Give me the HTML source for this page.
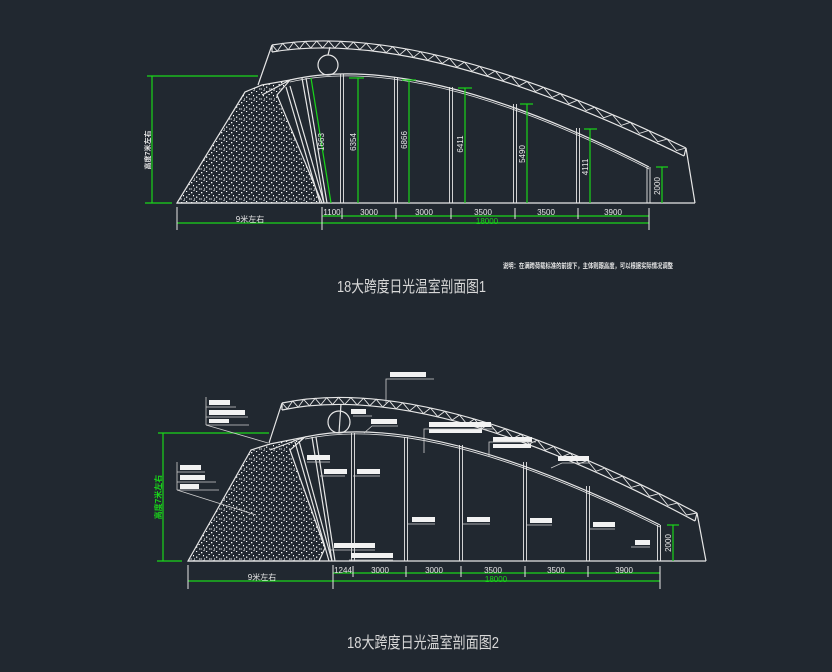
<!DOCTYPE html>
<html><head><meta charset="utf-8"><style>
html,body{margin:0;padding:0;background:#212830;}
svg{display:block}
text{font-family:"Liberation Sans","Noto Sans CJK SC",sans-serif;}
</style></head><body>
<svg width="832" height="672" viewBox="0 0 832 672" xmlns="http://www.w3.org/2000/svg">
<defs>
<pattern id="dots" width="10" height="10" patternUnits="userSpaceOnUse">
<rect x="1" y="2" width="1.3" height="1.3" fill="#fff"/><rect x="6" y="1" width="1.2" height="1" fill="#fff"/>
<rect x="8.5" y="4" width="1.3" height="1" fill="#fff"/><rect x="3" y="5" width="1" height="1.3" fill="#fff"/>
<rect x="6" y="6.5" width="1.3" height="1.3" fill="#fff"/><rect x="9" y="8.5" width="1" height="1" fill="#fff"/>
<rect x="0.5" y="8.5" width="1.3" height="1" fill="#fff"/><rect x="4" y="8.5" width="1" height="1" fill="#fff"/>
<rect x="3.5" y="0" width="1" height="1" fill="#fff"/>
</pattern>
</defs>
<rect width="832" height="672" fill="#212830"/>

<!-- ================= TOP ================= -->
<g fill="none" stroke="#e6e6e6" stroke-width="1.2">
<polygon points="177,203 245,92 262,85 290,80 277,95 322,203" fill="url(#dots)"/>
<path d="M290,80 Q420,50 649,167"/>
<path d="M290,82 Q420,52 649,169" stroke-width="0.8"/>
<path d="M272,45 Q420,20 686,148"/>
<path d="M272,52 Q420,27 684,156"/>
<path d="M272,45 L272,52 M272,45 L258,85 M686,148 L695,203 M684,156 L686,148"/>
<line x1="177" y1="203" x2="695" y2="203"/>
<circle cx="328" cy="65" r="10"/>
<line x1="328" y1="55" x2="330" y2="47"/>
<line x1="286" y1="87" x2="320" y2="203"/><line x1="290" y1="86" x2="324" y2="203"/>
<line x1="302" y1="78" x2="324" y2="203"/><line x1="306" y1="78" x2="327" y2="203"/>
<line x1="262" y1="95" x2="290" y2="80"/>
</g>
<g stroke="#e6e6e6" stroke-width="0.9">
<line x1="340.5" y1="74" x2="340.5" y2="203"/><line x1="343.5" y1="74" x2="343.5" y2="203"/>
<line x1="394.5" y1="77" x2="394.5" y2="203"/><line x1="397.5" y1="77" x2="397.5" y2="203"/>
<line x1="449.5" y1="87" x2="449.5" y2="203"/><line x1="452.5" y1="87" x2="452.5" y2="203"/>
<line x1="513.5" y1="104" x2="513.5" y2="203"/><line x1="516.5" y1="104" x2="516.5" y2="203"/>
<line x1="576.5" y1="128" x2="576.5" y2="203"/><line x1="579.5" y1="128" x2="579.5" y2="203"/>
<line x1="647" y1="167" x2="647" y2="203"/><line x1="650" y1="167" x2="650" y2="203"/>
</g>
<polyline fill="none" stroke="#e6e6e6" stroke-width="0.9" points="272,45 277.3,51.2 282.7,43.4 288.2,49.8 293.7,42.2 299.4,48.8 305.1,41.4 310.8,48.1 316.7,41.0 322.6,47.9 328.6,40.95 334.7,48.1 340.9,41.3 347.1,48.6 353.4,42.1 359.8,49.6 366.2,43.2 372.7,50.9 379.3,44.7 386.0,52.7 392.8,46.7 399.6,54.8 406.5,49.0 413.5,57.3 420.5,51.7 427.7,60.2 434.9,54.8 442.1,63.5 449.5,58.3 456.9,67.1 464.4,62.1 472.0,71.2 479.7,66.4 487.4,75.7 495.2,71.0 503.1,80.5 511.1,76.1 519.1,85.8 527.2,81.5 535.4,91.4 543.6,87.35 552.0,97.4 560.4,93.6 568.9,103.8 577.4,100.2 586.1,110.6 594.8,107.2 603.6,117.8 612.4,114.6 621.3,125.4 630.4,122.3 639.4,133.4 648.6,130.5 657.8,141.7 667.2,139.1 676.5,150.5 686,148"/>
<g stroke="#19d619" stroke-width="1.2" fill="none">
<line x1="311" y1="78" x2="331" y2="203"/>
<line x1="358" y1="78" x2="358" y2="203"/><line x1="349" y1="78" x2="364" y2="78"/>
<line x1="409" y1="80" x2="409" y2="203"/><line x1="402" y1="80" x2="416" y2="80"/>
<line x1="465" y1="88" x2="465" y2="203"/><line x1="458" y1="88" x2="472" y2="88"/>
<line x1="527" y1="104" x2="527" y2="203"/><line x1="520" y1="104" x2="533" y2="104"/>
<line x1="590" y1="129" x2="590" y2="203"/><line x1="584" y1="129" x2="597" y2="129"/>
<line x1="662" y1="167" x2="662" y2="203"/><line x1="656" y1="167" x2="668" y2="167"/>
<line x1="152" y1="76" x2="152" y2="203"/><line x1="147" y1="76" x2="258" y2="76"/><line x1="145" y1="203" x2="172" y2="203"/>
<line x1="322" y1="216" x2="649" y2="216"/>
<line x1="177" y1="223" x2="649" y2="223"/>
</g>
<g stroke="#e6e6e6" stroke-width="1">
<line x1="177" y1="207" x2="177" y2="230"/><line x1="322" y1="207" x2="322" y2="230"/>
<line x1="342" y1="208" x2="342" y2="219"/><line x1="396" y1="208" x2="396" y2="219"/>
<line x1="451" y1="208" x2="451" y2="219"/><line x1="515" y1="208" x2="515" y2="219"/>
<line x1="578" y1="208" x2="578" y2="219"/><line x1="649" y1="208" x2="649" y2="230"/>
</g>
<g fill="#e6e6e6" font-size="8">
<text x="332" y="215" text-anchor="middle">1100</text>
<text x="369" y="215" text-anchor="middle">3000</text>
<text x="424" y="215" text-anchor="middle">3000</text>
<text x="483" y="215" text-anchor="middle">3500</text>
<text x="546" y="215" text-anchor="middle">3500</text>
<text x="613" y="215" text-anchor="middle">3900</text>
<text x="250" y="222" text-anchor="middle">9米左右</text>
<text transform="translate(324,142) rotate(-90)" text-anchor="middle">1663</text>
<text transform="translate(356,142) rotate(-90)" text-anchor="middle">6354</text>
<text transform="translate(407,140) rotate(-90)" text-anchor="middle">6866</text>
<text transform="translate(463,144) rotate(-90)" text-anchor="middle">6411</text>
<text transform="translate(525,154) rotate(-90)" text-anchor="middle">5490</text>
<text transform="translate(588,167) rotate(-90)" text-anchor="middle">4111</text>
<text transform="translate(660,186) rotate(-90)" text-anchor="middle">2000</text>
<text transform="translate(150,150) rotate(-90)" text-anchor="middle" font-weight="bold" font-size="7">高度7米左右</text>
<text x="503" y="268" font-size="7" font-weight="bold" textLength="170" lengthAdjust="spacingAndGlyphs">说明：在满跨荷载标准的前提下，主体则跟高度，可以根据实际情况调整</text>
</g>
<text x="487" y="224" fill="#19d619" font-size="8" text-anchor="middle">18000</text>
<text x="337" y="292" fill="#d8d8d8" font-size="16" textLength="149" lengthAdjust="spacingAndGlyphs">18大跨度日光温室剖面图1</text>

<!-- ================= BOTTOM ================= -->
<g fill="none" stroke="#e6e6e6" stroke-width="1.2">
<polygon points="188,561 251,450 270,444 305,437 290,450 325,548 319,561" fill="url(#dots)"/>
<path d="M305,437 Q430,410 660,525"/>
<path d="M305,439 Q430,412 660,527" stroke-width="0.8"/>
<path d="M282,403 Q430,372 697,513"/>
<path d="M282,410 Q430,379 695,521"/>
<path d="M282,403 L282,410 M282,403 L269,443 M697,513 L706,561 M695,521 L697,513"/>
<line x1="188" y1="561" x2="706" y2="561"/>
<circle cx="339" cy="422" r="11"/>
<line x1="339" y1="433" x2="341" y2="404"/>
<line x1="295" y1="442" x2="329" y2="561"/><line x1="299" y1="441" x2="332" y2="561"/>
<line x1="312" y1="437" x2="332" y2="561"/><line x1="316" y1="437" x2="335" y2="561"/>
<line x1="270" y1="450" x2="305" y2="437"/>
</g>
<g stroke="#e6e6e6" stroke-width="0.9">
<line x1="351.5" y1="433" x2="351.5" y2="561"/><line x1="354.5" y1="433" x2="354.5" y2="561"/>
<line x1="404.5" y1="437" x2="404.5" y2="561"/><line x1="407.5" y1="437" x2="407.5" y2="561"/>
<line x1="459.5" y1="445" x2="459.5" y2="561"/><line x1="462.5" y1="445" x2="462.5" y2="561"/>
<line x1="523.5" y1="462" x2="523.5" y2="561"/><line x1="526.5" y1="462" x2="526.5" y2="561"/>
<line x1="586.5" y1="486" x2="586.5" y2="561"/><line x1="589.5" y1="486" x2="589.5" y2="561"/>
<line x1="657.5" y1="525" x2="657.5" y2="561"/><line x1="660.5" y1="525" x2="660.5" y2="561"/>
</g>
<polyline fill="none" stroke="#e6e6e6" stroke-width="0.9" points="282,403 287.3,408.9 292.7,401.0 298.2,407.2 303.7,399.45 309.4,405.8 315.1,398.3 320.8,404.9 326.7,397.65 332.6,404.5 338.6,397.4 344.7,404.5 350.9,397.6 357.1,404.9 363.4,398.25 369.8,405.7 376.2,399.3 382.7,407.0 389.3,400.8 396.0,408.8 402.8,402.8 409.6,410.9 416.5,405.2 423.5,413.5 430.5,408.0 437.7,416.6 444.9,411.3 452.1,420.1 459.5,415.0 466.9,424.0 474.4,419.15 482.0,428.4 489.7,423.7 497.4,433.2 505.2,428.8 513.1,438.4 521.1,434.2 529.1,444.1 537.2,440.1 545.4,450.2 553.6,446.5 562.0,456.8 570.4,453.25 578.9,463.8 587.4,460.5 596.1,471.25 604.8,468.1 613.6,479.1 622.4,476.2 631.3,487.4 640.4,484.8 649.4,496.2 658.6,493.7 667.8,505.4 677.2,503.1 686.5,515.0 697,513"/>
<g stroke="#19d619" stroke-width="1.2" fill="none">
<line x1="163" y1="433" x2="163" y2="561"/><line x1="158" y1="433" x2="269" y2="433"/><line x1="157" y1="561" x2="182" y2="561"/>
<line x1="673" y1="525" x2="673" y2="561"/><line x1="667" y1="525" x2="679" y2="525"/>
<line x1="333" y1="573" x2="660" y2="573"/>
<line x1="188" y1="581" x2="660" y2="581"/>
</g>
<g stroke="#e6e6e6" stroke-width="1">
<line x1="188" y1="565" x2="188" y2="589"/><line x1="333" y1="565" x2="333" y2="589"/>
<line x1="353" y1="566" x2="353" y2="577"/><line x1="406" y1="566" x2="406" y2="577"/>
<line x1="461" y1="566" x2="461" y2="577"/><line x1="525" y1="566" x2="525" y2="577"/>
<line x1="588" y1="566" x2="588" y2="577"/><line x1="660" y1="566" x2="660" y2="589"/>
</g>
<g fill="#e6e6e6" font-size="8">
<text x="343" y="573" text-anchor="middle">1244</text>
<text x="380" y="573" text-anchor="middle">3000</text>
<text x="434" y="573" text-anchor="middle">3000</text>
<text x="493" y="573" text-anchor="middle">3500</text>
<text x="556" y="573" text-anchor="middle">3500</text>
<text x="624" y="573" text-anchor="middle">3900</text>
<text x="262" y="580" text-anchor="middle">9米左右</text>
<text transform="translate(671,543) rotate(-90)" text-anchor="middle">2000</text>
</g>
<text transform="translate(161,497) rotate(-90)" fill="#19d619" font-size="8" font-weight="bold" text-anchor="middle">高度7米左右</text>
<text x="496" y="582" fill="#19d619" font-size="8" text-anchor="middle">18000</text>

<!-- label boxes -->
<g fill="#f2f2f2">
<rect x="390" y="372" width="36" height="5"/>
<rect x="209" y="400" width="21" height="5"/><rect x="209" y="410" width="36" height="5"/><rect x="209" y="419" width="20" height="4"/>
<rect x="351" y="409" width="15" height="5"/><rect x="371" y="419" width="26" height="5"/>
<rect x="429" y="422" width="62" height="5"/><rect x="429" y="429" width="53" height="4"/>
<rect x="493" y="437" width="39" height="5"/><rect x="493" y="444" width="38" height="4"/>
<rect x="558" y="456" width="31" height="5"/>
<rect x="307" y="455" width="23" height="5"/><rect x="324" y="469" width="23" height="5"/><rect x="357" y="469" width="23" height="5"/>
<rect x="180" y="465" width="21" height="5"/><rect x="180" y="475" width="25" height="5"/><rect x="180" y="484" width="19" height="5"/>
<rect x="412" y="517" width="23" height="5"/><rect x="467" y="517" width="23" height="5"/>
<rect x="530" y="518" width="22" height="5"/><rect x="593" y="522" width="22" height="5"/>
<rect x="635" y="540" width="15" height="5"/>
<rect x="334" y="543" width="41" height="5"/><rect x="351" y="553" width="42" height="5"/>
</g>
<g stroke="#cfcfcf" stroke-width="0.8" fill="none">
<polyline points="434,379 386,379 386,403"/>
<line x1="206" y1="397" x2="206" y2="425"/><line x1="206" y1="407" x2="236" y2="407"/><line x1="206" y1="417" x2="248" y2="417"/><line x1="206" y1="425" x2="249" y2="425"/>
<line x1="206" y1="425" x2="268" y2="443"/>
<polyline points="372,416 353,416"/><polyline points="398,426 372,426 364,433"/>
<polyline points="494,429 424,429 424,453"/>
<polyline points="536,442 489,442 489,457"/>
<polyline points="590,463 562,463 551,468"/>
<line x1="307" y1="462" x2="330" y2="462"/><line x1="320" y1="476" x2="345" y2="476"/><line x1="353" y1="476" x2="380" y2="476"/>
<line x1="177" y1="462" x2="177" y2="490"/><line x1="177" y1="472" x2="205" y2="472"/><line x1="177" y1="482" x2="216" y2="482"/><line x1="177" y1="490" x2="219" y2="490"/>
<line x1="177" y1="490" x2="256" y2="515"/>
<line x1="408" y1="524" x2="435" y2="524"/><line x1="463" y1="524" x2="490" y2="524"/>
<line x1="526" y1="525" x2="552" y2="525"/><line x1="589" y1="529" x2="615" y2="529"/>
<line x1="631" y1="547" x2="650" y2="547"/>
<line x1="330" y1="550" x2="375" y2="550"/><line x1="349" y1="560" x2="393" y2="560"/>
</g>
<text x="347" y="648" fill="#d8d8d8" font-size="16" textLength="152" lengthAdjust="spacingAndGlyphs">18大跨度日光温室剖面图2</text>
</svg>
</body></html>
